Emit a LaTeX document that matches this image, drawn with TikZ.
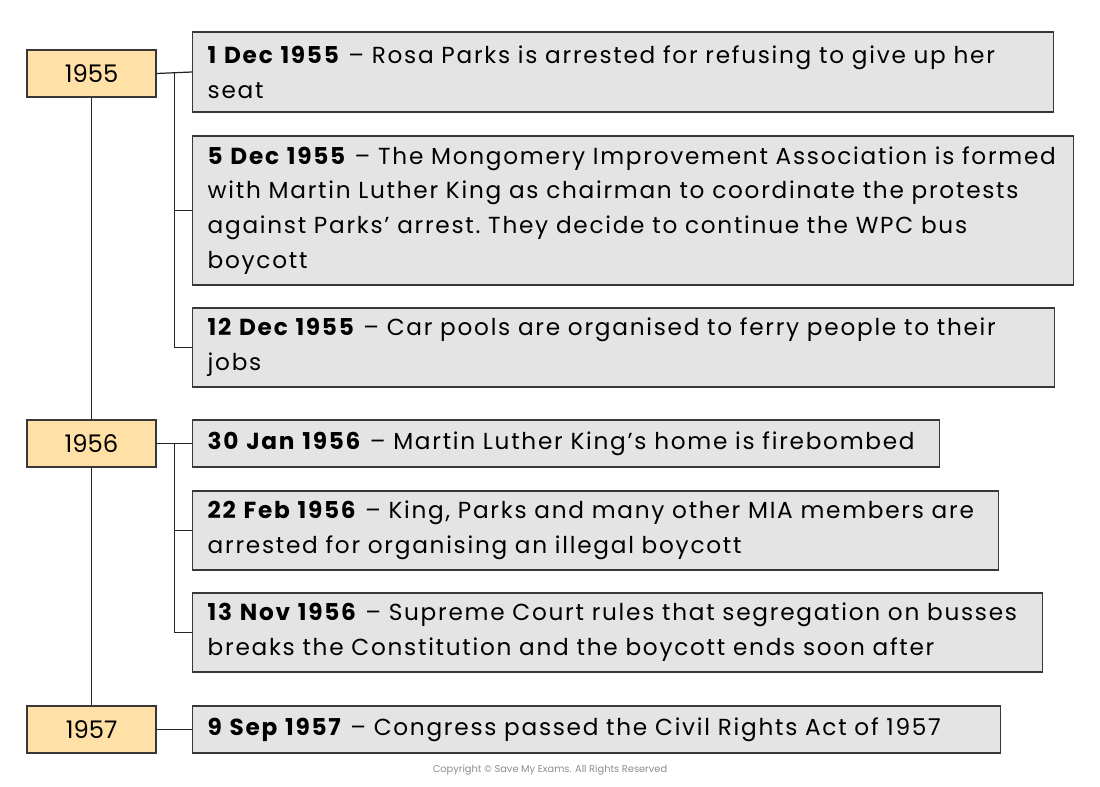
\documentclass[tikz,border=0pt]{standalone}
\usepackage{fontspec}
\setmainfont{Poppins}
\newfontfamily\widefont[LetterSpace=7.5]{Poppins}
\usetikzlibrary{calc}
\definecolor{yearfill}{HTML}{FFE0A6}
\definecolor{eventfill}{HTML}{E4E4E4}
\definecolor{edgegrey}{HTML}{383838}
\def\evfont{\widefont\fontsize{13.2}{19.8}\selectfont\frenchspacing}
\tikzset{
	yearbox/.style={draw=edgegrey, line width=0.8pt, fill=yearfill, minimum width=2.58cm, minimum height=0.94cm, inner sep=0pt, font=\fontsize{13.8}{16}\selectfont},
	eventbox/.style={draw=edgegrey, line width=0.8pt, fill=eventfill, anchor=west, align=left, inner xsep=0.3cm, inner ysep=0pt, font=\evfont},
	link/.style={line width=0.7pt, color=black!85}
}

\begin{document}
\begin{tikzpicture}[x=0.02cm, y=-0.02cm]
			%%%%% START %%%%%
			\useasboundingbox (0, 0) rectangle (1100, 787);
			
			\node[yearbox] (y55) at (91.5, 73.5) {1955};
			\node[yearbox] (y56) at (91.5, 443.5) {1956};
			\node[yearbox] (y57) at (91.5, 729.5) {1957};
			
			\node[eventbox, text width=16.62cm, minimum height=1.6cm] (e1) at (192, 72) {\textbf{1 Dec 1955} – Rosa Parks is arrested for refusing to give up her\\seat};
			\node[eventbox, text width=17.02cm, minimum height=2.98cm] (e2) at (192, 210.5) {\textbf{5 Dec 1955} – The Mongomery Improvement Association is formed\\with Martin Luther King as chairman to coordinate the protests\\against Parks’ arrest. They decide to continue the WPC bus\\boycott};
			\node[eventbox, text width=16.64cm, minimum height=1.58cm] (e3) at (192, 347.5) {\textbf{12 Dec 1955} – Car pools are organised to ferry people to their\\jobs};
			
			\node[eventbox, text width=14.34cm, minimum height=0.94cm] (e4) at (192, 443.5) {\textbf{30 Jan 1956} – Martin Luther King’s home is firebombed};
			\node[eventbox, text width=15.52cm, minimum height=1.58cm] (e5) at (192, 530.5) {\textbf{22 Feb 1956} – King, Parks and many other MIA members are\\arrested for organising an illegal boycott};
			\node[eventbox, text width=16.40cm, minimum height=1.58cm] (e6) at (192, 632.5) {\textbf{13 Nov 1956} – Supreme Court rules that segregation on busses\\breaks the Constitution and the boycott ends soon after};
			
			\node[eventbox, text width=15.56cm, minimum height=0.94cm] (e7) at (192, 729.5) {\textbf{9 Sep 1957} – Congress passed the Civil Rights Act of 1957};
			
			% main line
			\draw[link] (y55.south) -- (y56.north);
			\draw[link] (y56.south) -- (y57.north);
			
			% 1955 branches
			\coordinate (j55) at ($(y55.east)!0.5!(e1.west)$);
			\draw[link] (y55.east) -- (e1.west);
			\draw[link] (j55) |- (e2.west);
			\draw[link] (j55) |- (e3.west);
			
			% 1956 branches
			\coordinate (j56) at ($(y56.east)!0.5!(e4.west)$);
			\draw[link] (y56.east) -- (e4.west);
			\draw[link] (j56) |- (e5.west);
			\draw[link] (j56) |- (e6.west);
			
			% 1957
			\draw[link] (y57.east) -- (e7.west);
			
			\node[font=\fontsize{5.6}{6}\selectfont, color=black!45] (copy) at (550, 770) {Copyright © Save My Exams. All Rights Reserved};
			
			%%%%% END %%%%%
\end{tikzpicture}
\end{document}
